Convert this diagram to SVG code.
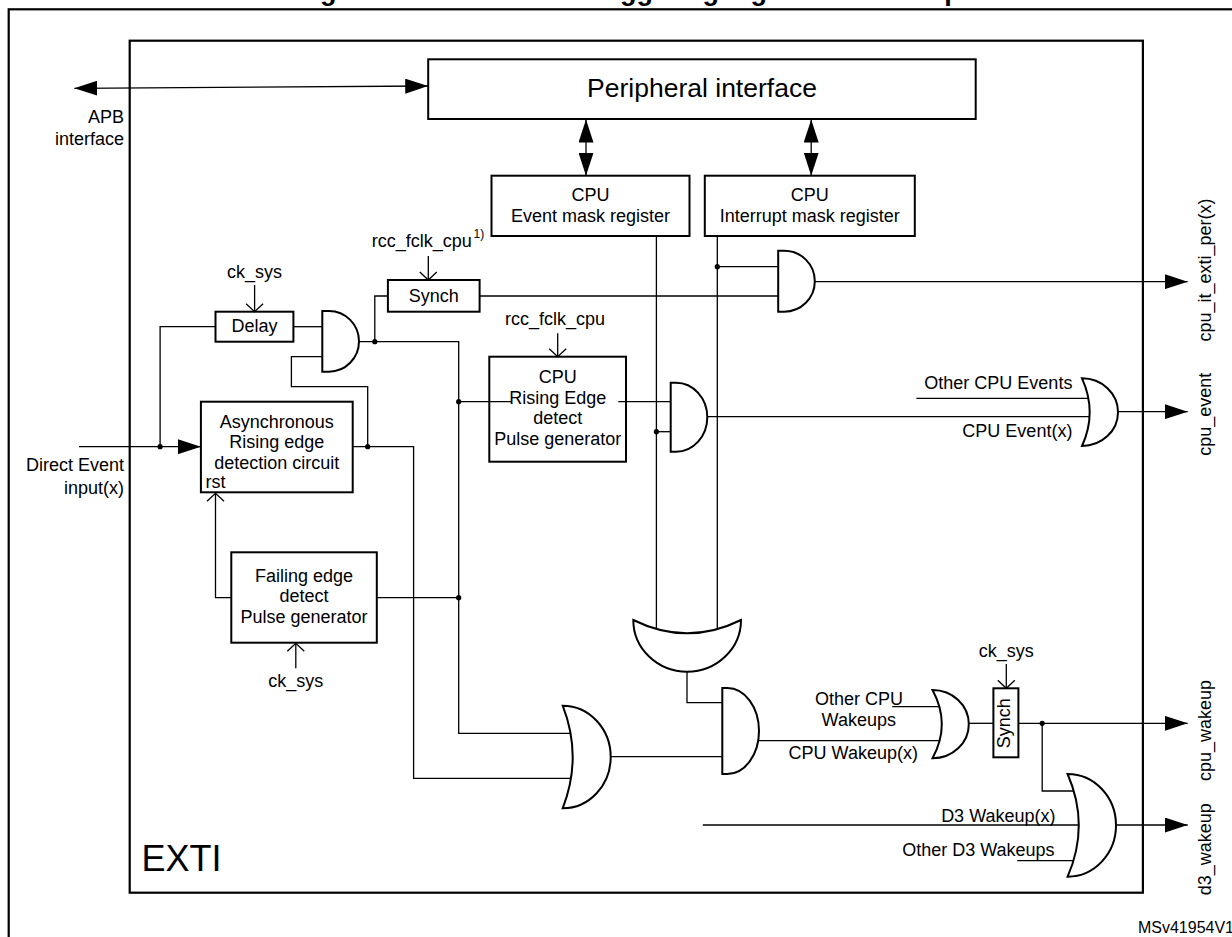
<svg xmlns="http://www.w3.org/2000/svg" width="1232" height="937" viewBox="0 0 1232 937">
<style>
.box{fill:#fff;stroke:#000;stroke-width:2}
.frame{fill:none;stroke:#000;stroke-width:2.2}
.gate{fill:#fff;stroke:#000;stroke-width:2}
.w{fill:none;stroke:#000;stroke-width:1.3}
.dot{fill:#000}
text{font-family:"Liberation Sans",Arial,Helvetica,sans-serif;font-size:18px;fill:#000}
.m{text-anchor:middle}
.e{text-anchor:end}
</style>
<defs>
<marker id="arr" viewBox="0 0 23 15" refX="23" refY="7.5" markerWidth="23" markerHeight="15" markerUnits="userSpaceOnUse" orient="auto-start-reverse"><path d="M0,0 L23,7.5 L0,15 Z" fill="#000"/></marker>
<marker id="opn" viewBox="-1 -10 11 20" refX="8" refY="0" markerWidth="11" markerHeight="20" markerUnits="userSpaceOnUse" orient="auto"><path d="M0,-8.5 L8,0 L0,8.5" fill="none" stroke="#000" stroke-width="1.3"/></marker>
</defs>
<rect width="1232" height="937" fill="#fff"/>
<text x="296" y="0" style="font-weight:bold;font-size:27px">Figure 58. Direct event triggering logic CPU wakeup</text>
<rect class="frame" x="8.7" y="9.3" width="1240" height="940"/>
<g id="exti">
<rect class="frame" x="129.7" y="40.7" width="1013.2" height="852"/>
<text x="141.6" y="870.7" style="font-size:36px">EXTI</text>
</g>
<g id="apb-label"><text class="e" x="124" y="123">APB</text><text class="e" x="124" y="145">interface</text></g>
<g id="direct-label"><text class="e" x="124" y="470.7">Direct Event</text><text class="e" x="124" y="494">input(x)</text></g>
<g id="peripheral"><rect class="box" x="428.2" y="59.3" width="547.5" height="59.7"/><text class="m" x="702" y="96.7" style="font-size:26.5px">Peripheral interface</text></g>
<g id="event-mask"><rect class="box" x="491.5" y="175.7" width="198" height="60.3"/><text class="m" x="590.5" y="201">CPU</text><text class="m" x="590.5" y="222">Event mask register</text></g>
<g id="int-mask"><rect class="box" x="704.8" y="175.7" width="210" height="60.3"/><text class="m" x="809.8" y="201">CPU</text><text class="m" x="809.8" y="222">Interrupt mask register</text></g>
<g id="synch1"><rect class="box" x="387.9" y="280" width="91.7" height="31.7"/><text class="m" x="433.7" y="301.7">Synch</text>
<text x="371.7" y="247">rcc_fclk_cpu</text><text x="473.5" y="238" style="font-size:12px">1)</text></g>
<g id="delay"><rect class="box" x="215.5" y="311.7" width="77.9" height="30"/><text class="m" x="254.5" y="331.7">Delay</text><text class="m" x="254.6" y="278">ck_sys</text></g>
<g id="async"><rect class="box" x="200.9" y="401.7" width="151.8" height="90.6"/><text class="m" x="276.8" y="428.3">Asynchronous</text><text class="m" x="276.8" y="448.3">Rising edge</text><text class="m" x="276.8" y="469.3">detection circuit</text><text x="205.6" y="488.3">rst</text></g>
<g id="failing"><rect class="box" x="231.3" y="552.3" width="145.5" height="90.4"/><text class="m" x="304" y="581.7">Failing edge</text><text class="m" x="304" y="601.7">detect</text><text class="m" x="304" y="622.7">Pulse generator</text><text class="m" x="295.8" y="686.7">ck_sys</text></g>
<g id="rising"><rect class="box" x="489.3" y="356.7" width="136.7" height="105"/><text class="m" x="557.7" y="383.3">CPU</text><text class="m" x="557.7" y="404.3">Rising Edge</text><text class="m" x="557.7" y="424.3">detect</text><text class="m" x="557.7" y="445.3">Pulse generator</text><text class="m" x="555" y="325">rcc_fclk_cpu</text></g>
<g id="synch2"><rect class="box" x="993.4" y="688.3" width="25" height="69"/><text class="m" transform="translate(1009.5,723.3) rotate(-90)">Synch</text><text class="m" x="1006.3" y="657.3">ck_sys</text></g>
<g id="wire-labels">
<text class="e" x="1072.4" y="389.3">Other CPU Events</text>
<text class="e" x="1072.4" y="436.7">CPU Event(x)</text>
<text class="m" x="859" y="705">Other CPU</text>
<text class="m" x="858.8" y="726">Wakeups</text>
<text class="m" x="853.3" y="759.3">CPU Wakeup(x)</text>
<text class="e" x="1055.5" y="821.7">D3 Wakeup(x)</text>
<text class="e" x="1054.6" y="856">Other D3 Wakeups</text>
</g>
<g id="outputs">
<text class="m" transform="translate(1211,270) rotate(-90)">cpu_it_exti_per(x)</text>
<text class="m" transform="translate(1211,414.2) rotate(-90)">cpu_event</text>
<text class="m" transform="translate(1211,730.5) rotate(-90)">cpu_wakeup</text>
<text class="m" transform="translate(1211,849.2) rotate(-90)">d3_wakeup</text>
</g>
<g id="connectors">
<path class="w" d="M74.3,88.3 L428.2,86" marker-start="url(#arr)" marker-end="url(#arr)"/>
<path class="w" d="M586,119.5 V175.7" marker-start="url(#arr)" marker-end="url(#arr)"/>
<path class="w" d="M811.2,119.5 V175.7" marker-start="url(#arr)" marker-end="url(#arr)"/>
<path class="w" d="M656.4,236 V628.8"/>
<path class="w" d="M717.3,236 V629.1"/>
<path class="w" d="M717.3,266.7 H778.2"/>
<path class="w" d="M479.6,296 H778.2"/>
<path class="w" d="M814.8,281.7 H1187.7" marker-end="url(#arr)"/>
<path class="w" d="M428.3,256 V280" marker-end="url(#opn)"/>
<path class="w" d="M254.6,285 V311.7" marker-end="url(#opn)"/>
<path class="w" d="M293.4,326.7 H322.3"/>
<path class="w" d="M215.5,326.7 H160.1 V446.7"/>
<path class="w" d="M79,446.7 H200.9" marker-end="url(#arr)"/>
<path class="w" d="M322.3,356.7 H291.4 V386.7 H367.7 V446.7"/>
<path class="w" d="M352.7,446.7 H413.6 V778.3 H571"/>
<path class="w" d="M359,341.7 H458.7 V733.3 H570.6"/>
<path class="w" d="M374.8,341.7 V296 H387.9"/>
<path class="w" d="M458.7,401.7 H511.7"/>
<path class="w" d="M618.3,401.7 H670.7"/>
<path class="w" d="M557.7,333.3 V356.7" marker-end="url(#opn)"/>
<path class="w" d="M656.4,431.7 H670.7"/>
<path class="w" d="M707,416.7 H1089.6"/>
<path class="w" d="M916.4,398.3 H1088.4"/>
<path class="w" d="M1118,411.7 H1187.7" marker-end="url(#arr)"/>
<path class="w" d="M231.3,597.7 H215.5 V493.3" marker-end="url(#opn)"/>
<path class="w" d="M376.8,597.7 H458.7"/>
<path class="w" d="M295.8,668.3 V643.3" marker-end="url(#opn)"/>
<path class="w" d="M687,671.7 V702.7 H722.3"/>
<path class="w" d="M610.7,756.7 H722.3"/>
<path class="w" d="M758.3,740.7 H939.6"/>
<path class="w" d="M892.2,706.7 H939.4"/>
<path class="w" d="M968.8,723.3 H993.4"/>
<path class="w" d="M1006.3,664 V688.3" marker-end="url(#opn)"/>
<path class="w" d="M1018.4,723.3 H1187.7" marker-end="url(#arr)"/>
<path class="w" d="M1042.2,723.3 V791 H1073.8"/>
<path class="w" d="M702.8,825 H1078.8"/>
<path class="w" d="M1017.2,860.7 H1073.5"/>
<path class="w" d="M1116,825 H1187.7" marker-end="url(#arr)"/>
<circle class="dot" cx="160.1" cy="446.7" r="2.6"/>
<circle class="dot" cx="367.7" cy="446.7" r="2.6"/>
<circle class="dot" cx="374.8" cy="341.7" r="2.6"/>
<circle class="dot" cx="458.7" cy="401.7" r="2.6"/>
<circle class="dot" cx="458.7" cy="597.7" r="2.6"/>
<circle class="dot" cx="656.4" cy="431.7" r="2.6"/>
<circle class="dot" cx="717.3" cy="266.7" r="2.6"/>
<circle class="dot" cx="1042.2" cy="723.3" r="2.6"/>
</g>
<g id="and-delay"><path class="gate" d="M322.3,311 H329 A30,30.35 0 0 1 329,371.7 H322.3 Z"/></g>
<g id="and-event"><path class="gate" d="M670.7,382.7 H676 A31.3,34.5 0 0 1 676,451.7 H670.7 Z"/></g>
<g id="and-interrupt"><path class="gate" d="M778.2,250.7 H784.2 A30.6,30.5 0 0 1 784.2,311.7 H778.2 Z"/></g>
<g id="and-wakeup"><path class="gate" d="M722.3,688 H727.3 A31.7,43 0 0 1 727.3,774 H722.3 Z"/></g>
<g id="or-event"><path class="gate" d="M1082,378.3 A36,33.85 0 0 1 1118,412.15 A36,33.85 0 0 1 1082,446 Q1097.4,412.15 1082,378.3 Z"/></g>
<g id="or-mask"><path class="gate" d="M633.3,620 A53.85,51.7 0 0 0 687.15,671.7 A53.85,51.7 0 0 0 741,620 Q687.15,646.6 633.3,620 Z"/></g>
<g id="or-edge"><path class="gate" d="M562.7,705.7 A48,51.3 0 0 1 610.7,757 A48,51.3 0 0 1 562.7,808.3 Q582.7,757 562.7,705.7 Z"/></g>
<g id="or-cpu-wakeup"><path class="gate" d="M932.5,690 A36.3,34.15 0 0 1 968.8,724.15 A36.3,34.15 0 0 1 932.5,758.3 Q951.1,724.15 932.5,690 Z"/></g>
<g id="or-d3-wakeup"><path class="gate" d="M1067.6,774 A48.4,51.35 0 0 1 1116,825.35 A48.4,51.35 0 0 1 1067.6,876.7 Q1090,825.35 1067.6,774 Z"/></g>
<text class="e" x="1234" y="933.3" style="font-size:16px">MSv41954V1</text>
</svg>
